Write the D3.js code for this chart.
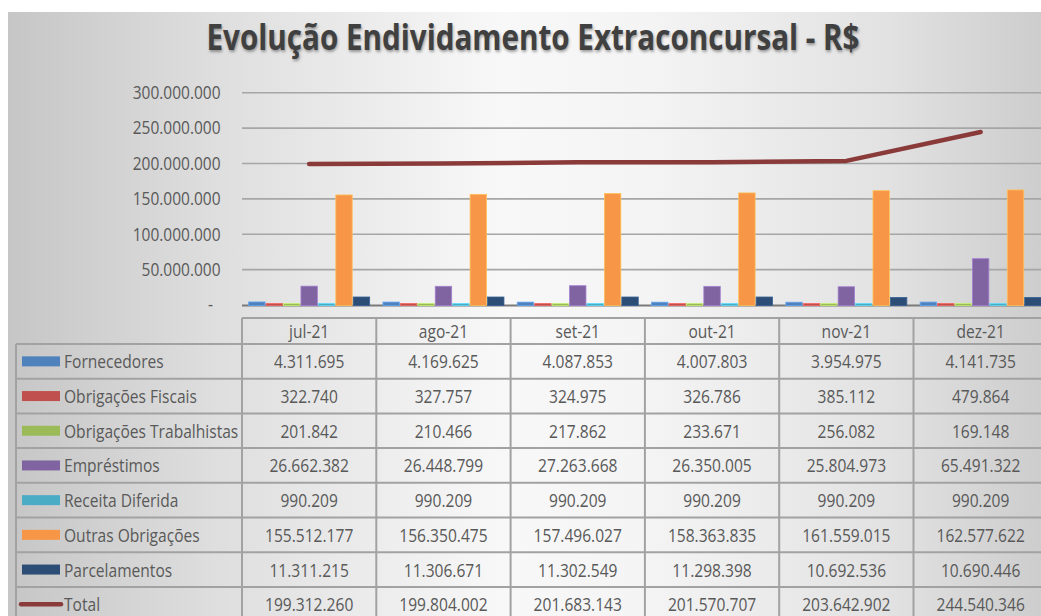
<!DOCTYPE html>
<html>
<head>
<meta charset="utf-8">
<script src="https://cdn.jsdelivr.net/npm/d3@7"></script>
<style>
  html, body { margin: 0; padding: 0; background: #fff; }
  svg { display: block; font-family: "Open Sans", sans-serif; }
  .title { text-shadow: 1px 2px 3px rgba(0,0,0,.35); }
</style>
</head>
<body>
<svg id="chart" width="1041" height="616"></svg>
<script>
/* Evolução Endividamento Extraconcursal — bars + total line + data table */

const months = ["jul-21", "ago-21", "set-21", "out-21", "nov-21", "dez-21"];

const seriesNames = [
  "Fornecedores",
  "Obrigações Fiscais",
  "Obrigações Trabalhistas",
  "Empréstimos",
  "Receita Diferida",
  "Outras Obrigações",
  "Parcelamentos",
];
const seriesColors = ["#4f81bd", "#c0504d", "#9bbb59", "#8064a2", "#4bacc6", "#f79646", "#2c4d75"];

const fornecedores   = [4311695, 4169625, 4087853, 4007803, 3954975, 4141735];
const obrFiscais     = [322740, 327757, 324975, 326786, 385112, 479864];
const obrTrabalhistas = [201842, 210466, 217862, 233671, 256082, 169148];
const emprestimos    = [26662382, 26448799, 27263668, 26350005, 25804973, 65491322];
const receitaDiferida = [990209, 990209, 990209, 990209, 990209, 990209];
const outrasObrig    = [155512177, 156350475, 157496027, 158363835, 161559015, 162577622];
const parcelamentos  = [11311215, 11306671, 11302549, 11298398, 10692536, 10690446];

const totalName = "Total";
const totalColor = "#8b3a3a";
const total = [199312260, 199804002, 201683143, 201570707, 203642902, 244540346];

const yTicks = [0, 50000000, 100000000, 150000000, 200000000, 250000000, 300000000];

const seriesValues = [fornecedores, obrFiscais, obrTrabalhistas, emprestimos, receitaDiferida, outrasObrig, parcelamentos];

// ── Setup ────────────────────────────────────────────────────────────────────

const W = 1041, H = 616;
const TEXT = "#595959";
const fmt = d3.formatLocale({ decimal: ",", thousands: ".", grouping: [3], currency: ["R$ ", ""] }).format(",.0f");

const svg = d3.select("#chart");
const defs = svg.append("defs");

const bg = defs.append("linearGradient").attr("id", "bg").attr("x1", 0).attr("x2", 1).attr("y1", 0).attr("y2", 0);
[[0, "#c6c6c6"], [0.2, "#dedede"], [0.48, "#f8f8f8"], [0.62, "#f4f4f4"], [0.85, "#e2e2e2"], [1, "#cdcdcd"]]
  .forEach(([o, c]) => bg.append("stop").attr("offset", o).attr("stop-color", c));

svg.append("rect").attr("width", W).attr("height", H).attr("fill", "#fff");
svg.append("rect").attr("x", 8).attr("y", 12).attr("width", W - 8).attr("height", H - 12).attr("fill", "url(#bg)");

// horizontally squeezed text (the source is a narrow font)
function txt(g, x, y, str, opts = {}) {
  return g.append("text")
    .attr("transform", `translate(${x},${y}) scale(${opts.k || 0.82},1)`)
    .attr("text-anchor", opts.anchor || "start")
    .attr("font-size", opts.size || 19)
    .attr("fill", opts.fill || TEXT)
    .text(str);
}

// Title
svg.append("text")
  .attr("class", "title")
  .attr("x", 533).attr("y", 50)
  .attr("text-anchor", "middle")
  .attr("font-size", 35)
  .attr("font-weight", 700)
  .attr("fill", "#404040")
  .attr("textLength", 653)
  .attr("lengthAdjust", "spacingAndGlyphs")
  .text("Evolução Endividamento Extraconcursal - R$");

// ── Scales ───────────────────────────────────────────────────────────────────

const plotL = 242, plotR = 242 + 6 * 134.3;
const xCol = d3.scaleBand().domain(months).range([plotL, plotR]).padding(0);
const xGrp = xCol.copy().paddingInner(0.0915).paddingOuter(0.0458);
const xBar = d3.scaleBand().domain(seriesNames).range([0, xGrp.bandwidth()]).padding(0);
const y = d3.scaleLinear().domain([0, 300000000]).range([305, 92.7]);

// Gridlines
svg.append("g").selectAll("line")
  .data(yTicks.filter(t => t > 0))
  .join("line")
  .attr("x1", plotL).attr("x2", W)
  .attr("y1", d => y(d)).attr("y2", d => y(d))
  .attr("stroke", "#a6a6a6").attr("stroke-width", 1.6);

// Y labels
const yLab = svg.append("g");
yTicks.forEach(t => {
  txt(yLab, t === 0 ? 213 : 220.5, y(t) + 6.4, t === 0 ? "-" : fmt(t), { anchor: "end", size: 17.8, k: 0.87 });
});

// Baseline
svg.append("line")
  .attr("x1", plotL).attr("x2", W)
  .attr("y1", y(0) + 0.5).attr("y2", y(0) + 0.5)
  .attr("stroke", "#7a7a7a").attr("stroke-width", 2);

// Bars
const groups = svg.append("g").selectAll("g")
  .data(months)
  .join("g")
  .attr("transform", m => `translate(${xGrp(m)},0)`);

groups.selectAll("rect")
  .data((m, mi) => seriesNames.map((s, si) => ({ s, si, v: seriesValues[si][mi] })))
  .join("rect")
  .attr("x", d => xBar(d.s) + 0.5)
  .attr("width", xBar.bandwidth() - 1)
  .attr("y", d => Math.min(y(d.v), y(0) - 1.5))
  .attr("height", d => Math.max(1.5, y(0) - y(d.v)) + 0.5)
  .attr("fill", d => seriesColors[d.si])
  .attr("stroke", d => d3.color(seriesColors[d.si]).brighter(0.7))
  .attr("stroke-width", 0.8);

// Total line
svg.append("path")
  .datum(total)
  .attr("fill", "none")
  .attr("stroke", totalColor)
  .attr("stroke-width", 4.5)
  .attr("stroke-linecap", "round")
  .attr("stroke-linejoin", "round")
  .attr("d", d3.line().x((d, i) => xCol(months[i]) + xCol.bandwidth() / 2).y(d => y(d)));

// ── Data table ───────────────────────────────────────────────────────────────

const headTop = 318, headBot = 344, rowH = 34.7, labL = 16;
const rows = seriesNames.concat([totalName]);
const rowVals = seriesValues.concat([total]);
const table = svg.append("g");
const LINE = "#a2a2a2";

// horizontal lines
table.append("line").attr("x1", plotL).attr("x2", W).attr("y1", headTop).attr("y2", headTop)
  .attr("stroke", LINE).attr("stroke-width", 2);
rows.forEach((r, i) => {
  const yy = headBot + i * rowH;
  table.append("line").attr("x1", labL).attr("x2", W).attr("y1", yy).attr("y2", yy)
    .attr("stroke", LINE).attr("stroke-width", 2);
});
// vertical lines
table.append("line").attr("x1", labL).attr("x2", labL).attr("y1", headBot).attr("y2", H)
  .attr("stroke", LINE).attr("stroke-width", 2);
months.forEach(m => {
  table.append("line").attr("x1", xCol(m)).attr("x2", xCol(m)).attr("y1", headTop).attr("y2", H)
    .attr("stroke", LINE).attr("stroke-width", 2);
});

// header
months.forEach(m => txt(table, xCol(m) + xCol.bandwidth() / 2, 337.5, m, { anchor: "middle" }));

// rows
rows.forEach((r, i) => {
  const cy = headBot + i * rowH + rowH / 2;
  if (i < seriesNames.length) {
    table.append("rect").attr("x", 22).attr("y", cy - 5).attr("width", 38).attr("height", 10)
      .attr("fill", seriesColors[i]);
  } else {
    table.append("line").attr("x1", 21).attr("x2", 61).attr("y1", cy).attr("y2", cy)
      .attr("stroke", totalColor).attr("stroke-width", 4.5).attr("stroke-linecap", "round");
  }
  txt(table, 64, cy + 7, r);
  rowVals[i].forEach((v, mi) => {
    txt(table, xCol(months[mi]) + xCol.bandwidth() / 2, cy + 7, fmt(v), { anchor: "middle" });
  });
});
</script>
</body>
</html>
